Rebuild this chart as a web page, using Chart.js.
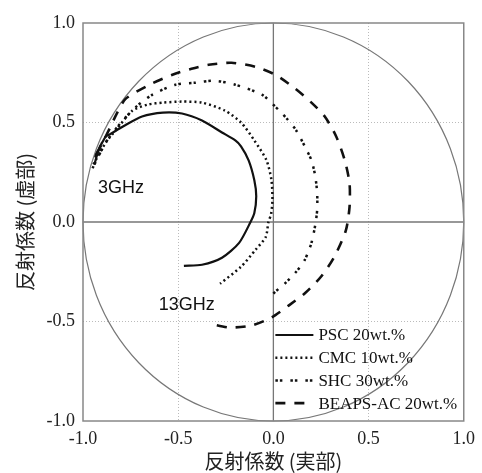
<!DOCTYPE html>
<html>
<head>
  <title>Reflection coefficient</title>
  <script src="https://cdn.jsdelivr.net/npm/chart.js@4.4.0/dist/chart.umd.min.js"></script>
  <style>
    body { margin: 0; background: #fff; }
    #chart { display: block; }
  </style>
</head>
<body>
<canvas id="chart" width="482" height="473"></canvas>
<script>
var pscRe = [-0.94, -0.92, -0.935, -0.90, -0.915, -0.88, -0.86, -0.79, -0.69, -0.58, -0.48, -0.375, -0.27, -0.20, -0.17, -0.13, -0.10, -0.09, -0.10, -0.12, -0.18, -0.27, -0.375, -0.47];
var pscIm = [0.29, 0.36, 0.33, 0.40, 0.37, 0.43, 0.44, 0.48, 0.53, 0.55, 0.545, 0.51, 0.45, 0.41, 0.38, 0.31, 0.21, 0.13, 0.045, 0.0, -0.105, -0.18, -0.215, -0.22];

var cmcRe = [-0.945, -0.88, -0.82, -0.74, -0.66, -0.58, -0.48, -0.375, -0.255, -0.17, -0.10, -0.036, -0.01, -0.005, -0.012, -0.026, -0.04, -0.094, -0.17, -0.28];
var cmcIm = [0.29, 0.40, 0.47, 0.56, 0.59, 0.60, 0.605, 0.60, 0.56, 0.50, 0.41, 0.31, 0.21, 0.11, 0.04, 0.0, -0.075, -0.14, -0.225, -0.31];

var shcRe = [-0.95, -0.88, -0.80, -0.72, -0.635, -0.515, -0.41, -0.31, -0.20, -0.06, 0.01, 0.07, 0.12, 0.165, 0.20, 0.22, 0.23, 0.23, 0.22, 0.20, 0.165, 0.12, 0.06, 0.01, 0.0];
var shcIm = [0.27, 0.40, 0.50, 0.58, 0.64, 0.69, 0.70, 0.71, 0.69, 0.64, 0.58, 0.52, 0.46, 0.38, 0.31, 0.23, 0.145, 0.06, -0.015, -0.105, -0.19, -0.25, -0.31, -0.35, -0.36];

var beapsRe = [-0.93, -0.87, -0.82, -0.775, -0.65, -0.53, -0.43, -0.34, -0.22, -0.094, 0.01, 0.115, 0.20, 0.27, 0.33, 0.375, 0.40, 0.40, 0.38, 0.32, 0.25, 0.167, 0.08, -0.01, -0.115, -0.23, -0.34];
var beapsIm = [0.34, 0.45, 0.55, 0.62, 0.69, 0.74, 0.77, 0.79, 0.80, 0.78, 0.74, 0.67, 0.60, 0.53, 0.43, 0.31, 0.195, 0.075, -0.045, -0.175, -0.275, -0.357, -0.42, -0.48, -0.52, -0.53, -0.51];

var seriesNames = ['PSC 20wt.%', 'CMC 10wt.%', 'SHC 30wt.%', 'BEAPS-AC 20wt.%'];
var tickValues = [-1.0, -0.5, 0.0, 0.5, 1.0];
var freqLabels = ['3GHz', '13GHz'];
var freqRe = [-0.80, -0.455];
var freqIm = [0.17, -0.415];

function pts(re, im) {
  return re.map(function (v, i) { return { x: v, y: im[i] }; });
}

function line(label, re, im, dash, width) {
  return {
    label: label,
    data: pts(re, im),
    showLine: true,
    borderColor: '#111',
    borderWidth: width,
    borderDash: dash,
    pointRadius: 0,
    fill: false,
    tension: 0.25
  };
}

// unit circle, zero axes, frame, frequency notes and legend
var decor = {
  id: 'decor',
  beforeDatasetsDraw: function (chart) {
    var ctx = chart.ctx, a = chart.chartArea;
    var sx = chart.scales.x, sy = chart.scales.y;
    var cx = sx.getPixelForValue(0), cy = sy.getPixelForValue(0);
    ctx.save();
    ctx.strokeStyle = '#777';
    ctx.lineWidth = 1.3;
    ctx.beginPath();
    ctx.moveTo(cx, a.top); ctx.lineTo(cx, a.bottom);
    ctx.moveTo(a.left, cy); ctx.lineTo(a.right, cy);
    ctx.stroke();
    ctx.beginPath();
    ctx.ellipse(cx, cy, sx.getPixelForValue(1) - cx, cy - sy.getPixelForValue(1), 0, 0, Math.PI * 2);
    ctx.lineWidth = 1.2;
    ctx.stroke();
    ctx.strokeStyle = '#888';
    ctx.lineWidth = 1.5;
    ctx.strokeRect(a.left, a.top, a.right - a.left, a.bottom - a.top);
    ctx.restore();
  },
  afterDatasetsDraw: function (chart) {
    var ctx = chart.ctx, a = chart.chartArea;
    var sx = chart.scales.x, sy = chart.scales.y;
    ctx.save();
    ctx.fillStyle = '#111';
    ctx.font = '18px "Liberation Sans", Arial, sans-serif';
    ctx.textAlign = 'center';
    ctx.textBaseline = 'middle';
    freqLabels.forEach(function (t, i) {
      ctx.fillText(t, sx.getPixelForValue(freqRe[i]), sy.getPixelForValue(freqIm[i]));
    });
    // legend
    var x0 = sx.getPixelForValue(0) + 2;
    ctx.textAlign = 'left';
    ctx.font = '17px "Liberation Serif", "Times New Roman", serif';
    chart.data.datasets.forEach(function (ds, i) {
      var y = a.bottom - 86 + i * 22.7;
      ctx.beginPath();
      ctx.setLineDash(ds.borderDash || []);
      ctx.lineWidth = ds.borderWidth;
      ctx.strokeStyle = ds.borderColor;
      ctx.moveTo(x0, y);
      ctx.lineTo(x0 + 38, y);
      ctx.stroke();
      ctx.setLineDash([]);
      ctx.fillText(ds.label, x0 + 43, y + 1);
    });
    ctx.restore();
  }
};

var tickFont = { family: '"Liberation Serif", "Times New Roman", serif', size: 18 };
var titleFont = { family: '"Noto Sans CJK JP", sans-serif', size: 20 };

function gridColor(c) {
  return Math.abs(c.tick.value) === 0.5 ? '#bbb' : 'rgba(0,0,0,0)';
}

new Chart(document.getElementById('chart'), {
  type: 'scatter',
  data: {
    datasets: [
      line(seriesNames[0], pscRe, pscIm, [], 2.2),
      line(seriesNames[1], cmcRe, cmcIm, [2, 3], 2.5),
      line(seriesNames[2], shcRe, shcIm, [2.5, 2, 2.5, 8], 2.5),
      line(seriesNames[3], beapsRe, beapsIm, [10, 9], 2.6)
    ]
  },
  options: {
    responsive: false,
    animation: false,
    layout: { padding: { top: 23, right: 15, left: 0, bottom: 0 } },
    plugins: { legend: { display: false }, tooltip: { enabled: false } },
    scales: {
      x: {
        type: 'linear', min: -1, max: 1,
        afterBuildTicks: function (s) { s.ticks = tickValues.map(function (v) { return { value: v }; }); },
        afterFit: function (s) { s.height = 52; },
        grid: { color: gridColor, lineWidth: 1, drawTicks: false },
        border: { display: false, dash: [1, 2] },
        ticks: { font: tickFont, color: '#222', padding: 7, callback: function (v) { return v.toFixed(1); } },
        title: { display: true, text: '反射係数 (実部)', font: titleFont, color: '#222', padding: { top: 0, bottom: 0 } }
      },
      y: {
        type: 'linear', min: -1, max: 1,
        afterBuildTicks: function (s) { s.ticks = tickValues.map(function (v) { return { value: v }; }); },
        afterFit: function (s) { s.width = 83; },
        grid: { color: gridColor, lineWidth: 1, drawTicks: false },
        border: { display: false, dash: [1, 2] },
        ticks: { font: tickFont, color: '#222', padding: 8, callback: function (v) { return v.toFixed(1); } },
        title: { display: true, text: '反射係数 (虚部)', font: titleFont, color: '#222', padding: { top: 13, bottom: 0 } }
      }
    }
  },
  plugins: [decor]
});
</script>
</body>
</html>
